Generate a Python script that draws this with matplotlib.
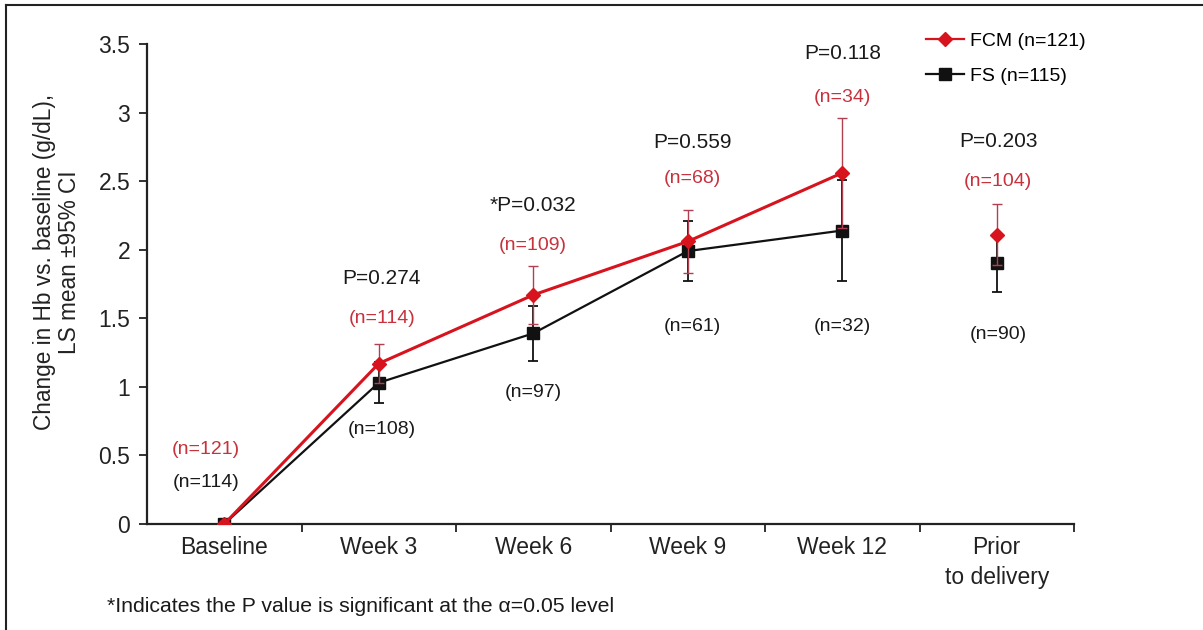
import matplotlib
matplotlib.use("Agg")
import matplotlib.pyplot as plt
from matplotlib.lines import Line2D
import numpy as np

plt.rcParams['font.family'] = ['Liberation Sans', 'DejaVu Sans']

categories = ["Baseline", "Week 3", "Week 6", "Week 9", "Week 12", "Prior\nto delivery"]
fcm_mean = [0.0, 1.17, 1.67, 2.06, 2.56, 2.11]
fcm_ci = [0.0, 0.14, 0.21, 0.23, 0.40, 0.22]
fs_mean = [0.0, 1.03, 1.39, 1.99, 2.14, 1.90]
fs_ci = [0.0, 0.15, 0.20, 0.22, 0.37, 0.21]

p_labels = ["", "P=0.274", "*P=0.032", "P=0.559", "P=0.118", "P=0.203"]
p_label_y = [None, 1.79, 2.32, 2.78, 3.43, 2.79]
fcm_n = ["(n=121)", "(n=114)", "(n=109)", "(n=68)", "(n=34)", "(n=104)"]
fcm_n_y = [0.54, 1.50, 2.03, 2.52, 3.11, 2.50]
fs_n = ["(n=114)", "(n=108)", "(n=97)", "(n=61)", "(n=32)", "(n=90)"]
fs_n_y = [0.30, 0.69, 0.96, 1.44, 1.44, 1.38]
label_dx = [-0.12, 0.02, 0.0, 0.03, 0.0, 0.01]

RED = "#d7141e"
RED_TXT = "#c8323c"
BLACK = "#111111"

fig = plt.figure(figsize=(12.03, 6.30), dpi=100)
fig.patch.set_facecolor("white")
ax = fig.add_axes([147/1203, 1-524/630, (1074-147)/1203, (524-44)/630])

x = np.arange(len(categories))
eb = dict(capsize=3.5, elinewidth=1.3, capthick=1.3)
ax.errorbar(x[:5], fs_mean[:5], yerr=fs_ci[:5], color=BLACK, lw=1.6, marker='s',
            ms=9, zorder=3, **eb)
ax.errorbar(x[5:], fs_mean[5:], yerr=fs_ci[5:], color=BLACK, lw=0, marker='s',
            ms=9, zorder=3, **eb)
ebr = dict(capsize=3.5, elinewidth=1.0, capthick=1.0, ecolor="#b04050")
ax.errorbar(x[:5], fcm_mean[:5], yerr=fcm_ci[:5], color=RED, lw=2.2, marker='D',
            ms=7, zorder=4, **ebr)
ax.errorbar(x[5:], fcm_mean[5:], yerr=fcm_ci[5:], color=RED, lw=0, marker='D',
            ms=7, zorder=4, **ebr)

ax.set_xlim(-0.5, 5.5)
ax.set_ylim(0, 3.5)
for s in ["top", "right"]:
    ax.spines[s].set_visible(False)
for s in ["left", "bottom"]:
    ax.spines[s].set_linewidth(1.6)
    ax.spines[s].set_color("#222222")

yt = np.arange(0, 3.51, 0.5)
ax.set_yticks(yt)
ax.set_yticklabels([f"{v:g}" for v in yt], fontsize=16.5)
ax.tick_params(axis='y', direction='out', length=6, width=1.3, pad=6, colors="#222222")

ax.set_xticks(np.arange(0.5, 5.6, 1.0))
ax.set_xticklabels([])
ax.set_xticks(x, minor=True)
ax.set_xticklabels(categories, minor=True, fontsize=16.5, color="#222222", linespacing=1.35)
ax.tick_params(axis='x', which='major', direction='out', length=6, width=1.3, colors="#222222")
ax.tick_params(axis='x', which='minor', length=0, pad=9)

ax.set_ylabel("Change in Hb vs. baseline (g/dL),\nLS mean \u00b195% CI", fontsize=16.3,
              color="#222222", linespacing=1.1)
ax.yaxis.set_label_coords(-0.071, 0.545)

for i in range(len(categories)):
    xi = x[i] + label_dx[i]
    if p_labels[i]:
        ax.text(xi, p_label_y[i], p_labels[i], ha='center', va='center', fontsize=15, color="#1a1a1a")
    ax.text(xi, fcm_n_y[i], fcm_n[i], ha='center', va='center', fontsize=14, color=RED_TXT)
    ax.text(xi, fs_n_y[i], fs_n[i], ha='center', va='center', fontsize=14, color="#1a1a1a")

handles = [Line2D([], [], color=RED, lw=1.6, marker='D', ms=7),
           Line2D([], [], color=BLACK, lw=1.6, marker='s', ms=8)]
fig.legend(handles, ["FCM (n=121)", "FS (n=115)"], loc='upper left',
           bbox_to_anchor=(908/1203, 1-15/630), frameon=False, fontsize=14,
           handlelength=2.0, handletextpad=0.3, labelspacing=0.9)

fig.text(107/1203, 1-607/630, "*Indicates the P value is significant at the \u03b1=0.05 level",
         fontsize=15.3, va='center', ha='left', color="#1a1a1a")

fig.add_artist(Line2D([6/1203, 6/1203], [0, 1-5/630], color="#222222", lw=1.5))
fig.add_artist(Line2D([6/1203, 1], [1-5/630, 1-5/630], color="#222222", lw=1.5))

fig.savefig("out.png", dpi=100, facecolor="white")
